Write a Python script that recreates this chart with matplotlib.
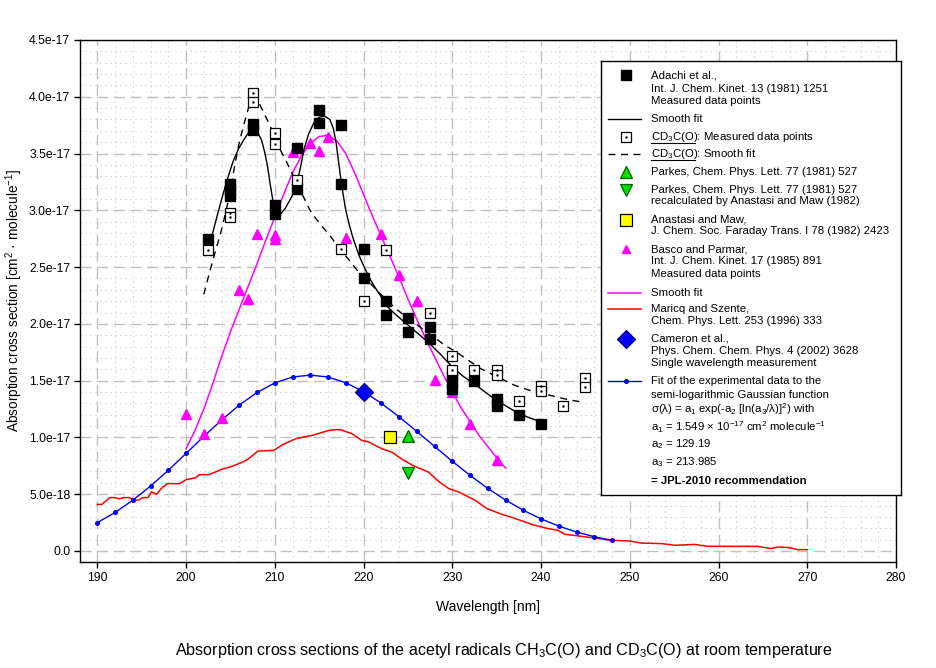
import numpy as np
import matplotlib
matplotlib.use('Agg')
import matplotlib.pyplot as plt
from matplotlib.ticker import MultipleLocator, FuncFormatter
from matplotlib.lines import Line2D

plt.rcParams['font.family'] = ['Liberation Sans', 'DejaVu Sans']
plt.rcParams['mathtext.fontset'] = 'custom'
plt.rcParams['mathtext.rm'] = 'Liberation Sans'
plt.rcParams['mathtext.it'] = 'Liberation Sans:italic'
plt.rcParams['mathtext.bf'] = 'Liberation Sans:bold'

# all cross sections below are in units of 1e-17 cm2 molecule-1
UNIT = 1e-17

# Adachi et al. (1981), CH3C(O) measured points
adachi_wl = [202.5, 205, 205, 205, 207.5, 207.5, 210, 210, 212.5, 212.5, 215, 215,
             217.5, 217.5, 220, 220, 222.5, 222.5, 225, 225, 227.5, 227.5, 230, 230,
             230, 232.5, 235, 235, 237.5, 240]
adachi_xs = [2.75, 3.23, 3.18, 3.13, 3.76, 3.71, 3.05, 2.97, 3.55, 3.19, 3.88, 3.77,
             3.75, 3.23, 2.66, 2.40, 2.20, 2.08, 2.05, 1.93, 1.97, 1.87, 1.55, 1.49,
             1.43, 1.50, 1.335, 1.275, 1.195, 1.115]

# Adachi smooth fit (CH3C(O))
adachi_fit_wl = [203.0, 203.6, 204.2, 204.8, 205.3, 205.9, 206.5, 207.0, 207.6, 208.1,
                 208.5, 208.9, 209.2, 209.5, 209.8, 210.2, 210.7, 211.2, 211.7, 212.1,
                 212.5, 212.9, 213.3, 213.8, 214.4, 215.0, 215.6, 216.2, 216.6, 216.9,
                 217.1, 217.4, 217.7, 218.0, 218.4, 218.8, 219.5, 220.2, 220.7, 221.3,
                 222.0, 222.6, 223.5, 225.0, 226.2, 227.4, 228.7, 230.0, 231.2, 232.5,
                 233.7, 234.9, 236.2, 237.5, 238.8, 240.2]
adachi_fit_xs = [2.80, 2.98, 3.15, 3.31, 3.43, 3.54, 3.62, 3.68, 3.71, 3.68,
                 3.62, 3.50, 3.38, 3.22, 3.08, 2.98, 2.97, 3.02, 3.09, 3.15,
                 3.24, 3.38, 3.54, 3.67, 3.77, 3.82, 3.83, 3.80, 3.72, 3.60,
                 3.48, 3.30, 3.14, 3.00, 2.87, 2.76, 2.60, 2.48, 2.40, 2.32,
                 2.24, 2.16, 2.09, 1.99, 1.91, 1.83, 1.73, 1.62, 1.54, 1.47,
                 1.40, 1.33, 1.27, 1.21, 1.17, 1.13]

# CD3C(O) measured points
cd3_wl = [202.5, 205, 205, 207.5, 207.5, 210, 210, 212.5, 217.5, 220, 222.5, 227.5,
          230, 230, 232.5, 235, 235, 237.5, 240, 240, 242.5, 245, 245]
cd3_xs = [2.65, 2.98, 2.94, 4.03, 3.95, 3.68, 3.58, 3.27, 2.66, 2.20, 2.65, 2.095,
          1.72, 1.59, 1.59, 1.59, 1.55, 1.32, 1.45, 1.405, 1.275, 1.52, 1.445]

# CD3C(O) smooth fit
cd3_fit_wl = [202.0, 202.6, 203.2, 203.9, 204.5, 205.0, 205.5, 206.0, 206.6, 207.1,
              207.6, 208.1, 208.5, 209.0, 209.5, 210.1, 210.7, 211.3, 211.8, 212.4,
              213.1, 213.9, 214.6, 215.3, 216.2, 217.2, 218.4, 219.5, 220.6, 221.7,
              222.7, 223.7, 225.0, 226.4, 227.8, 229.2, 230.5, 231.8, 233.1, 234.4,
              235.7, 237.0, 238.5, 240.0, 241.6, 243.2, 244.8]
cd3_fit_xs = [2.26, 2.44, 2.61, 2.80, 2.99, 3.18, 3.40, 3.60, 3.78, 3.92,
              3.99, 3.97, 3.90, 3.82, 3.74, 3.62, 3.52, 3.43, 3.35, 3.26,
              3.14, 3.01, 2.93, 2.86, 2.78, 2.67, 2.56, 2.45, 2.37, 2.28,
              2.20, 2.13, 2.05, 1.97, 1.89, 1.81, 1.75, 1.68, 1.61, 1.56,
              1.51, 1.46, 1.42, 1.39, 1.36, 1.33, 1.31]

# Parkes (1981), recalculated, Anastasi and Maw (1982), Cameron et al. (2002)
parkes_wl, parkes_xs = [225], [1.01]
parkes_rc_wl, parkes_rc_xs = [225], [0.685]
anastasi_wl, anastasi_xs = [223], [1.00]
cameron_wl, cameron_xs = [220], [1.40]

# Basco and Parmar (1985)
basco_wl = [200, 202, 204, 206, 207, 208, 210, 210, 212, 214, 215, 216, 218, 222,
            224, 226, 228, 230, 232, 235]
basco_xs = [1.21, 1.03, 1.17, 2.30, 2.215, 2.79, 2.78, 2.75, 3.51, 3.59, 3.52, 3.645,
            2.76, 2.79, 2.43, 2.20, 1.51, 1.40, 1.12, 0.80]
basco_fit_wl = [200, 201, 202, 203, 204, 205, 206, 207, 208, 209, 210, 211, 212, 213,
                214, 215, 216, 217, 218, 219, 220, 221, 222, 223, 224, 225, 226, 227,
                228, 229, 230, 231, 232, 233, 234, 235, 236]
basco_fit_xs = [0.90, 1.06, 1.25, 1.47, 1.71, 1.93, 2.13, 2.33, 2.53, 2.74, 2.94, 3.14,
                3.33, 3.48, 3.59, 3.65, 3.66, 3.61, 3.50, 3.33, 3.14, 2.95, 2.77, 2.59,
                2.41, 2.22, 2.04, 1.87, 1.71, 1.55, 1.40, 1.26, 1.14, 1.02, 0.92, 0.82,
                0.73]

# Maricq and Szente (1996)
maricq_wl = [190.0, 190.5, 191.4, 191.9, 192.5, 193.0, 193.6, 194.2, 194.7, 195.1,
             195.7, 196.1, 196.7, 197.2, 197.9, 199.3, 200.0, 201.1, 201.5, 202.6,
             203.9, 205.2, 206.4, 207.0, 208.1, 209.9, 210.9, 212.4, 214.2, 216.1,
             216.9, 217.4, 218.7, 219.8, 220.6, 221.5, 222.1, 223.2, 224.3, 225.5,
             227.3, 228.5, 229.6, 230.7, 232.6, 233.9, 235.6, 237.1, 239.3, 240.8,
             241.9, 242.7, 245.7, 247.9, 250.0, 251.3, 253.6, 255.1, 257.3, 258.8,
             264.4, 265.9, 266.7, 268.0, 268.9, 270.0]
maricq_xs = [0.41, 0.41, 0.47, 0.47, 0.46, 0.47, 0.47, 0.445, 0.45, 0.47,
             0.47, 0.52, 0.50, 0.55, 0.593, 0.593, 0.628, 0.646, 0.672, 0.672,
             0.716, 0.746, 0.784, 0.81, 0.88, 0.886, 0.937, 0.99, 1.018, 1.062,
             1.068, 1.068, 1.033, 0.974, 0.96, 0.922, 0.90, 0.87, 0.81, 0.755,
             0.695, 0.61, 0.55, 0.52, 0.446, 0.373, 0.323, 0.285, 0.226, 0.197,
             0.182, 0.147, 0.118, 0.094, 0.088, 0.070, 0.065, 0.050, 0.058, 0.041,
             0.041, 0.021, 0.035, 0.030, 0.012, 0.012]

# JPL-2010 semi-logarithmic Gaussian fit, read every 2 nm
jpl_wl = [190, 192, 194, 196, 198, 200, 202, 204, 206, 208, 210, 212, 214, 216, 218,
          220, 222, 224, 226, 228, 230, 232, 234, 236, 238, 240, 242, 244, 246, 248]
jpl_xs = [0.250, 0.339, 0.447, 0.572, 0.711, 0.859, 1.009, 1.153, 1.285, 1.396,
          1.480, 1.532, 1.549, 1.532, 1.481, 1.403, 1.301, 1.182, 1.053, 0.921,
          0.790, 0.666, 0.551, 0.449, 0.359, 0.283, 0.219, 0.167, 0.126, 0.093]


def ytick_fmt(v, pos):
    if abs(v) < 1e-9:
        return '0.0'
    return '%.1e' % (v * UNIT)


W, H = 936, 668
fig = plt.figure(figsize=(W / 100, H / 100), dpi=100)
ax = fig.add_axes([80 / W, 1 - 562 / H, 816 / W, 522 / H])

# grid
ax.xaxis.set_major_locator(MultipleLocator(10))
ax.xaxis.set_minor_locator(MultipleLocator(2))
ax.yaxis.set_major_locator(MultipleLocator(0.5))
ax.yaxis.set_minor_locator(MultipleLocator(0.1))
ax.grid(which='major', color='#c0c0c0', linestyle=(0, (8, 4)), linewidth=1)
ax.grid(which='minor', color='#c8c8c8', linestyle=(0, (1, 3.5)), linewidth=0.8)
ax.set_axisbelow(True)
ax.tick_params(which='minor', length=0)
ax.tick_params(which='major', direction='out', length=4, width=1, labelsize=8.8, pad=3)

ax.set_xlim(188.05, 280)
ax.set_ylim(-0.097, 4.5)
ax.yaxis.set_major_formatter(FuncFormatter(ytick_fmt))
ax.set_xticks(np.arange(190, 281, 10))

# curves
ax.plot(maricq_wl, maricq_xs, color='red', lw=1.1, zorder=3)
ax.plot(jpl_wl, jpl_xs, color='blue', lw=1, marker='o', ms=2.6, zorder=4)
ax.plot(basco_fit_wl, basco_fit_xs, color='magenta', lw=1.1, zorder=4)
ax.plot(adachi_fit_wl, adachi_fit_xs, color='black', lw=1, zorder=4)
ax.plot(cd3_fit_wl, cd3_fit_xs, color='black', lw=1, linestyle=(0, (5, 4)), zorder=4)

# points
ax.plot(basco_wl, basco_xs, linestyle='none', marker='^', ms=7.2, color='magenta',
        mec='magenta', zorder=5)
ax.plot(adachi_wl, adachi_xs, linestyle='none', marker='s', ms=7.5, color='black', zorder=6)
ax.plot(cd3_wl, cd3_xs, linestyle='none', marker='s', ms=6.8, mfc='white', mec='black',
        mew=0.9, zorder=6)
ax.plot(cd3_wl, cd3_xs, linestyle='none', marker='.', ms=1.5, color='black', zorder=7)
ax.plot(parkes_wl, parkes_xs, linestyle='none', marker='^', ms=9, mfc='#00e000',
        mec='#006000', mew=0.9, zorder=6)
ax.plot(parkes_rc_wl, parkes_rc_xs, linestyle='none', marker='v', ms=9, mfc='#00e000',
        mec='#006000', mew=0.9, zorder=6)
ax.plot(anastasi_wl, anastasi_xs, linestyle='none', marker='s', ms=8, mfc='yellow',
        mec='black', mew=0.9, zorder=6)
ax.plot(cameron_wl, cameron_xs, linestyle='none', marker='D', ms=9, mfc='blue',
        mec='#000080', mew=0.9, zorder=6)

for s in ax.spines.values():
    s.set_linewidth(1)

ax.set_xlabel('Wavelength [nm]', fontsize=10, labelpad=12)
fig.text(14 / W, 1 - 301 / H, 'Absorption cross section [cm$^{\\mathregular{2}}$ · molecule$^{\\mathregular{-1}}$]',
         rotation=90, ha='center', va='center', fontsize=9.8)
fig.text(504 / W, 1 - 650 / H,
         'Absorption cross sections of the acetyl radicals CH$_{\\mathregular{3}}$C(O) and '
         'CD$_{\\mathregular{3}}$C(O) at room temperature',
         ha='center', va='center', fontsize=11.6)

# legend box drawn in pixel coordinates
lg = fig.add_axes([601 / W, 1 - 495 / H, 300 / W, 434 / H], zorder=10)
lg.set_xlim(601, 901)
lg.set_ylim(495, 61)
lg.set_xticks([])
lg.set_yticks([])
for s in lg.spines.values():
    s.set_linewidth(1)
    s.set_color('black')

tx = 651
fs = 8.2


def txt(y, s, **kw):
    lg.text(tx, y, s, ha='left', va='center', fontsize=fs, **kw)


def hline(y, **kw):
    lg.add_line(Line2D([608, 641], [y, y], **kw))


lg.plot([626], [75], marker='s', ms=7.5, color='black')
txt(75, 'Adachi et al.,')
txt(88.5, 'Int. J. Chem. Kinet. 13 (1981) 1251')
txt(101, 'Measured data points')
hline(119, color='black', lw=1)
txt(119, 'Smooth fit')
lg.plot([626], [136.5], marker='s', ms=6.8, mfc='white', mec='black', mew=0.9)
lg.plot([626], [136.5], marker='.', ms=1.5, color='black')
txt(136.5, 'CD$_{\\mathregular{3}}$C(O): Measured data points')
lg.add_line(Line2D([651, 695], [142.5, 142.5], color='black', lw=0.8))
hline(154, color='black', lw=1, linestyle=(0, (5, 4)))
txt(154, 'CD$_{\\mathregular{3}}$C(O): Smooth fit')
lg.add_line(Line2D([651, 695], [160, 160], color='black', lw=0.8))
lg.plot([626], [172], marker='^', ms=9, mfc='#00e000', mec='#006000', mew=0.9)
txt(172, 'Parkes, Chem. Phys. Lett. 77 (1981) 527')
lg.plot([626], [190], marker='v', ms=9, mfc='#00e000', mec='#006000', mew=0.9)
txt(190, 'Parkes, Chem. Phys. Lett. 77 (1981) 527')
txt(201.5, 'recalculated by Anastasi and Maw (1982)')
lg.plot([626], [220], marker='s', ms=8, mfc='yellow', mec='black', mew=0.9)
txt(220, 'Anastasi and Maw,')
txt(231.5, 'J. Chem. Soc. Faraday Trans. I 78 (1982) 2423')
lg.plot([626], [249], marker='^', ms=6, color='magenta')
txt(249, 'Basco and Parmar,')
txt(261.5, 'Int. J. Chem. Kinet. 17 (1985) 891')
txt(274, 'Measured data points')
hline(292.5, color='magenta', lw=1.1)
txt(292.5, 'Smooth fit')
hline(308.5, color='red', lw=1.1)
txt(308.5, 'Maricq and Szente,')
txt(321, 'Chem. Phys. Lett. 253 (1996) 333')
lg.plot([626], [338.5], marker='D', ms=9, mfc='blue', mec='#000080', mew=0.9)
txt(338.5, 'Cameron et al.,')
txt(350.5, 'Phys. Chem. Chem. Phys. 4 (2002) 3628')
txt(362.5, 'Single wavelength measurement')
hline(381, color='blue', lw=1)
lg.plot([626], [381], marker='o', ms=2.6, color='blue')
txt(381, 'Fit of the experimental data to the')
txt(395, 'semi-logarithmic Gaussian function')
txt(409, 'σ(λ) = a$_{\\mathregular{1}}$ exp(-a$_{\\mathregular{2}}$ [ln(a$_{\\mathregular{3}}$/λ)]$^{\\mathregular{2}}$) with')
txt(427, 'a$_{\\mathregular{1}}$ = 1.549 × 10$^{\\mathregular{-17}}$ cm$^{\\mathregular{2}}$ molecule$^{\\mathregular{-1}}$')
txt(444.5, 'a$_{\\mathregular{2}}$ = 129.19')
txt(462.5, 'a$_{\\mathregular{3}}$ = 213.985')
txt(481, '= JPL-2010 recommendation', fontweight='bold')

fig.savefig('out.png', dpi=100)
